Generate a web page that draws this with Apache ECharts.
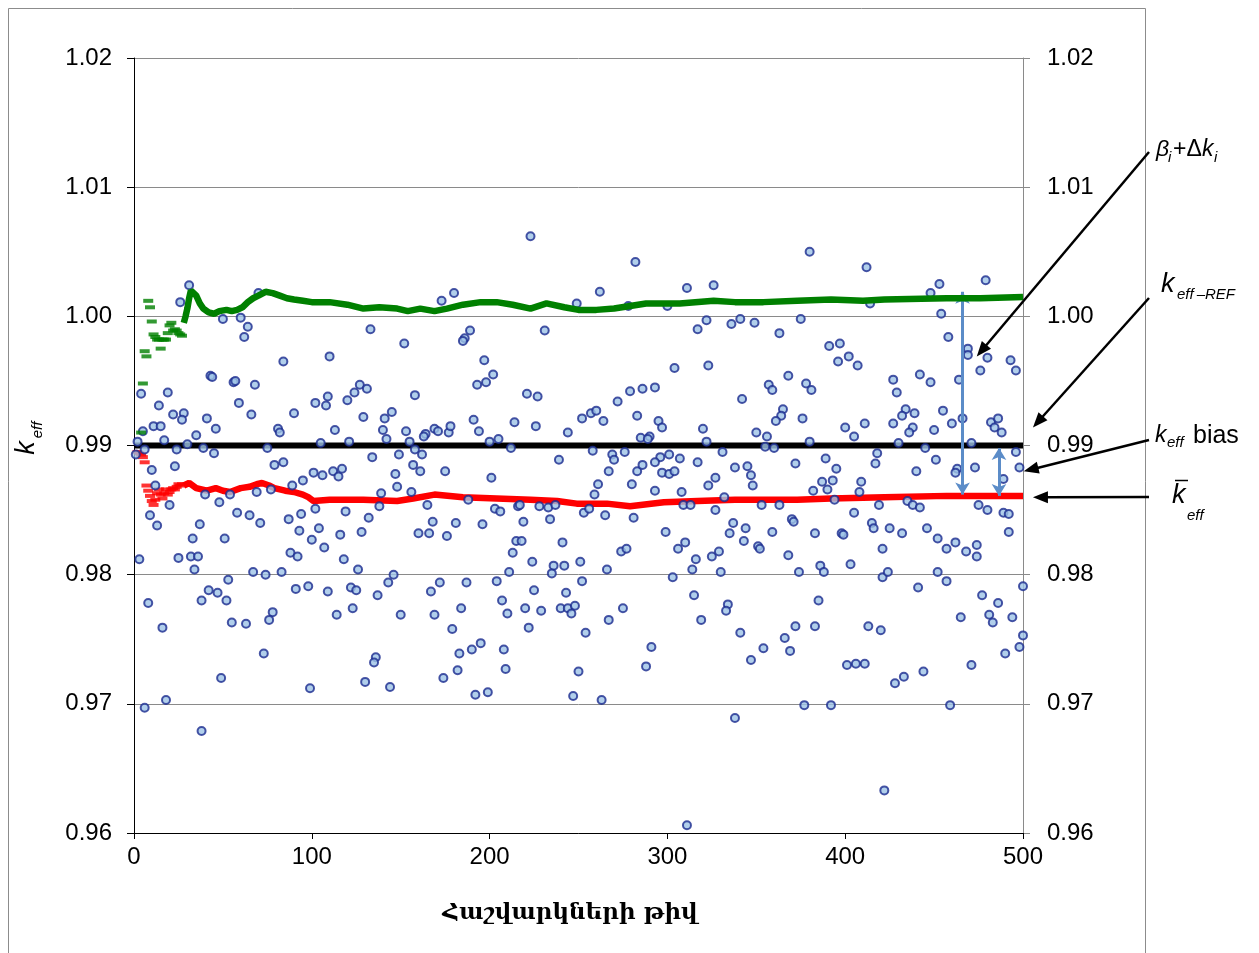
<!DOCTYPE html>
<html>
<head>
<meta charset="utf-8">
<script src="https://cdn.jsdelivr.net/npm/echarts@6/dist/echarts.min.js"></script>
<style>
html,body{margin:0;padding:0;background:#fff;}
#chart{width:1259px;height:953px;}
</style>
</head>
<body>
<div id="chart"></div>
<script>
// Individual k_eff results, [calculation number, k_eff]
const kEffPoints = [
[31,1.0024],[26,1.0011],[50,0.9998],[60,0.9999],[64,0.9992],[62,0.9984],[70,1.0018],[84,0.9965],[43,0.9954],[44,0.9953],
[56,0.9949],[57,0.9950],[68,0.9947],[4,0.9940],[19,0.9941],[14,0.9931],[59,0.9933],[22,0.9924],[28,0.9925],[27,0.9920],
[41,0.9921],[66,0.9924],[11,0.9915],[15,0.9915],[5,0.9911],[46,0.9913],[81,0.9913],[82,0.9910],[35,0.9908],[17,0.9904],
[2,0.9903],[1,0.9893],[6,0.9897],[24,0.9897],[30,0.9901],[39,0.9898],[45,0.9894],[75,0.9898],[79,0.9885],[84,0.9887],
[10,0.9881],[23,0.9884],[12,0.9869],[20,0.9854],[40,0.9862],[48,0.9856],[54,0.9862],[69,0.9864],[77,0.9866],[9,0.9846],
[13,0.9838],[37,0.9839],[58,0.9848],[65,0.9846],[71,0.9840],[33,0.9828],[51,0.9828],[3,0.9812],[25,0.9813],[32,0.9814],
[36,0.9814],[34,0.9804],[67,0.9802],[74,0.9800],[83,0.9802],[53,0.9796],[42,0.9788],[47,0.9786],[38,0.9780],[52,0.9780],
[8,0.9778],[78,0.9771],[76,0.9765],[55,0.9763],[63,0.9762],[16,0.9759],[73,0.9739],[49,0.9720],[18,0.9703],[6,0.9697],
[38,0.9679],
[133,0.9990],[152,0.9979],[110,0.9969],[127,0.9947],[131,0.9944],[124,0.9941],[120,0.9935],[109,0.9938],[102,0.9933],[108,0.9931],
[158,0.9939],[90,0.9925],[129,0.9922],[145,0.9926],[141,0.9921],[113,0.9912],[140,0.9912],[153,0.9911],[164,0.9909],[163,0.9907],
[169,0.9913],[105,0.9902],[121,0.9903],[142,0.9905],[155,0.9903],[134,0.9891],[149,0.9893],[158,0.9897],[162,0.9893],[157,0.9885],
[161,0.9880],[95,0.9873],[101,0.9879],[106,0.9877],[112,0.9880],[115,0.9876],[117,0.9882],[147,0.9878],[89,0.9869],[148,0.9868],
[139,0.9863],[138,0.9853],[156,0.9864],[165,0.9854],[102,0.9851],[119,0.9849],[94,0.9847],[87,0.9843],[132,0.9844],[168,0.9841],
[93,0.9834],[104,0.9836],[128,0.9833],[116,0.9831],[160,0.9832],[166,0.9832],[100,0.9827],[88,0.9817],[92,0.9814],[107,0.9821],
[118,0.9812],[126,0.9804],[146,0.9800],[143,0.9794],[91,0.9789],[98,0.9791],[109,0.9787],[122,0.9790],[125,0.9788],[137,0.9784],
[167,0.9787],[114,0.9769],[123,0.9774],[150,0.9769],[169,0.9769],[136,0.9736],[135,0.9732],[130,0.9717],[144,0.9713],[99,0.9712],
[223,1.0062],[180,1.0018],[173,1.0012],[249,1.0010],[189,0.9989],[186,0.9983],[185,0.9981],[231,0.9989],[197,0.9966],[202,0.9955],
[198,0.9949],[193,0.9947],[221,0.9940],[227,0.9938],[191,0.9920],[171,0.9911],[177,0.9910],[178,0.9915],[194,0.9911],[214,0.9918],
[226,0.9915],[244,0.9910],[252,0.9921],[200,0.9903],[205,0.9905],[212,0.9898],[239,0.9889],[175,0.9880],[201,0.9875],[188,0.9858],
[203,0.9851],[206,0.9849],[216,0.9853],[217,0.9854],[228,0.9853],[233,0.9852],[237,0.9854],[253,0.9848],[181,0.9840],[196,0.9839],
[219,0.9841],[234,0.9843],[176,0.9830],[215,0.9826],[218,0.9826],[213,0.9817],[241,0.9825],[224,0.9810],[236,0.9807],[235,0.9801],
[242,0.9807],[251,0.9810],[211,0.9802],[172,0.9794],[187,0.9794],[204,0.9795],[252,0.9795],[225,0.9788],[243,0.9786],[207,0.9780],
[210,0.9770],[184,0.9774],[220,0.9774],[229,0.9772],[240,0.9774],[244,0.9774],[248,0.9776],[246,0.9770],[179,0.9758],[222,0.9759],
[254,0.9755],[195,0.9747],[190,0.9742],[183,0.9739],[208,0.9742],[174,0.9720],[182,0.9726],[209,0.9727],[250,0.9725],[192,0.9707],
[199,0.9709],[247,0.9706],
[282,1.0042],[262,1.0019],[311,1.0022],[326,1.0024],[278,1.0008],[300,1.0008],[322,0.9997],[317,0.9990],[336,0.9994],[304,0.9960],
[323,0.9962],[279,0.9942],[286,0.9944],[293,0.9945],[272,0.9934],[257,0.9925],[260,0.9927],[264,0.9919],[283,0.9923],[295,0.9919],
[297,0.9914],[320,0.9913],[285,0.9906],[290,0.9907],[289,0.9905],[322,0.9903],[258,0.9896],[269,0.9893],[270,0.9889],[276,0.9895],
[296,0.9891],[301,0.9893],[307,0.9890],[331,0.9895],[267,0.9880],[283,0.9880],[286,0.9885],[293,0.9887],[297,0.9879],[301,0.9878],
[304,0.9880],[317,0.9887],[327,0.9875],[323,0.9869],[338,0.9883],[261,0.9870],[259,0.9862],[280,0.9870],[293,0.9865],[308,0.9864],
[256,0.9851],[265,0.9846],[281,0.9844],[309,0.9854],[313,0.9854],[332,0.9860],[327,0.9850],[337,0.9840],[335,0.9832],[299,0.9833],
[274,0.9818],[277,0.9820],[306,0.9820],[310,0.9825],[316,0.9812],[314,0.9804],[325,0.9814],[329,0.9818],[330,0.9802],[266,0.9804],
[303,0.9798],[315,0.9784],[334,0.9777],[333,0.9772],[275,0.9774],[267,0.9765],[319,0.9765],[291,0.9744],[288,0.9729],[263,0.9703],
[338,0.9689],[311,0.9606],
[380,1.0050],[412,1.0038],[414,1.0010],[341,0.9998],[349,0.9995],[375,0.9998],[363,0.9987],[391,0.9977],[397,0.9979],[396,0.9965],
[402,0.9969],[407,0.9962],[368,0.9954],[357,0.9947],[359,0.9943],[378,0.9948],[381,0.9943],[342,0.9936],[365,0.9928],[364,0.9923],
[361,0.9919],[376,0.9921],[400,0.9914],[405,0.9907],[411,0.9917],[350,0.9910],[356,0.9907],[380,0.9903],[355,0.9899],[360,0.9898],
[345,0.9884],[347,0.9877],[348,0.9869],[372,0.9886],[389,0.9890],[395,0.9882],[387,0.9872],[390,0.9866],[393,0.9873],[382,0.9865],
[409,0.9872],[408,0.9864],[418,0.9894],[417,0.9886],[394,0.9858],[363,0.9854],[419,0.9854],[353,0.9854],[344,0.9836],[343,0.9826],
[359,0.9833],[370,0.9843],[371,0.9841],[383,0.9832],[398,0.9832],[399,0.9831],[405,0.9848],[415,0.9840],[416,0.9836],[421,0.9820],
[351,0.9822],[352,0.9820],[368,0.9815],[386,0.9807],[388,0.9802],[403,0.9808],[374,0.9802],[421,0.9798],[385,0.9780],[341,0.9755],
[354,0.9743],[347,0.9734],[366,0.9751],[369,0.9741],[372,0.9760],[383,0.9760],[413,0.9760],[420,0.9757],[401,0.9730],[406,0.9731],
[411,0.9731],[377,0.9699],[392,0.9699],[422,0.9633],
[453,1.0025],[448,1.0018],[479,1.0028],[454,1.0002],[458,0.9984],[469,0.9975],[469,0.9970],[480,0.9968],[476,0.9958],[493,0.9966],
[496,0.9958],[442,0.9955],[427,0.9951],[429,0.9941],[448,0.9949],[464,0.9951],[434,0.9928],[432,0.9923],[439,0.9925],[455,0.9927],
[466,0.9921],[427,0.9917],[438,0.9914],[436,0.9910],[450,0.9912],[460,0.9917],[482,0.9918],[486,0.9921],[484,0.9914],[488,0.9910],
[430,0.9902],[445,0.9898],[471,0.9902],[451,0.9889],[496,0.9895],[440,0.9880],[463,0.9882],[462,0.9879],[473,0.9883],[489,0.9874],
[498,0.9883],[435,0.9857],[438,0.9854],[442,0.9852],[475,0.9854],[480,0.9850],[489,0.9848],[492,0.9847],[492,0.9833],[425,0.9836],
[432,0.9832],[446,0.9836],[452,0.9828],[457,0.9820],[462,0.9825],[468,0.9818],[474,0.9814],[474,0.9823],[424,0.9802],[452,0.9802],
[457,0.9795],[441,0.9790],[477,0.9784],[486,0.9778],[500,0.9791],[481,0.9769],[483,0.9763],[494,0.9767],[465,0.9767],[500,0.9753],
[498,0.9744],[490,0.9739],[471,0.9730],[428,0.9716],[433,0.9721],[444,0.9725],[459,0.9699]
];

// Running upper bound beta_i + delta k_i: first calculations as separate marks, then the settled curve
const upperDashes = [
[4,0.9910],[5,0.9948],[6,0.9973],[7,0.9969],[8,1.0012],[9,1.0007],[10,0.9996],[11,0.9986],[12,0.9984],[13,0.9982],
[14,0.9982],[15,0.9975],[16,0.9982],[17,0.9982],[18,0.9982],[19,0.9987],[20,0.9993],[21,0.9995],[22,0.9989],[23,0.9990],
[24,0.9989],[25,0.9987],[26,0.9986],[27,0.9985]
];
const upperLine = [
[28,0.9995],[29,1.0000],[30,1.0006],[31,1.0014],[32,1.0020],[33,1.0021],[35,1.0016],[37,1.0010],[39,1.0006],[42,1.0003],
[45,1.0002],[48,1.0004],[52,1.0005],[55,1.0004],[58,1.0005],[61,1.0007],[64,1.0011],[67,1.0014],[70,1.0016],[74,1.0019],
[78,1.0018],[82,1.0016],[86,1.0014],[90,1.0013],[95,1.0012],[100,1.0011],[110,1.0011],[120,1.0009],[129,1.0006],[138,1.0007],
[148,1.0006],[154,1.0004],[161,1.0006],[169,1.0004],[176,1.0006],[185,1.0009],[195,1.0011],[204,1.0011],[213,1.0009],[223,1.0006],
[232,1.0010],[242,1.0007],[250,1.0005],[260,1.0005],[270,1.0006],[279,1.0008],[288,1.0010],[307,1.0010],[326,1.0012],[338,1.0011],
[354,1.0011],[373,1.0012],[392,1.0013],[410,1.0012],[422,1.0013],[457,1.0014],[476,1.0014],[500,1.0015]
];

// Running mean k_eff
const meanDashes = [
[2,0.9895],[3,0.9894],[4,0.9893],[5,0.9891],[6,0.9887],[7,0.9869],[8,0.9865],[9,0.9861],[10,0.9857],[11,0.9854],
[12,0.9858],[13,0.9863],[14,0.9866],[15,0.9862],[16,0.9859],[17,0.9863],[18,0.9866],[19,0.9862],[20,0.9864],[21,0.9866],
[22,0.9867],[23,0.9866],[24,0.9868],[25,0.9870],[26,0.9869],[27,0.9870]
];
const meanLine = [
[28,0.9869],[31,0.9871],[35,0.9867],[41,0.9865],[46,0.9867],[50,0.9865],[54,0.9864],[60,0.9867],[65,0.9868],[69,0.9870],
[72,0.9871],[76,0.9869],[79,0.9867],[85,0.9865],[90,0.9864],[95,0.9862],[98,0.9860],[101,0.9857],[110,0.9858],[129,0.9858],
[148,0.9857],[157,0.9859],[169,0.9862],[185,0.9860],[204,0.9859],[223,0.9858],[238,0.9857],[249,0.9855],[266,0.9855],[279,0.9853],
[298,0.9856],[317,0.9857],[338,0.9858],[373,0.9858],[392,0.9859],[422,0.9860],[457,0.9861],[500,0.9861]
];

// Reference k_eff and axis extents
const kEffRef = 0.99;
const xTicks = [0, 100, 200, 300, 400, 500];
const yTicks = [0.96, 0.97, 0.98, 0.99, 1.00, 1.01, 1.02];

// Double-headed gap arrows: [calculation number, top, bottom]
const gapArrows = [[466, 1.0019, 0.9862], [486.5, 0.9898, 0.9861]];

// Callout arrow tips in data units
const calloutTips = [[474, 0.9969], [505.6, 0.9914], [500.4, 0.9880], [505.6, 0.9860]];

const FONT = '"Liberation Sans", Arial, sans-serif';
const GREEN = '#008000';
const RED = '#ff0000';

const chart = echarts.init(document.getElementById('chart'), null, {renderer: 'canvas'});

const yAxisBase = {
  type: 'value',
  min: yTicks[0],
  max: yTicks[yTicks.length - 1],
  interval: 0.01,
  axisLabel: {
    fontFamily: FONT, fontSize: 24, color: '#000',
    formatter: v => v.toFixed(2)
  }
};

const option = {
  animation: false,
  backgroundColor: '#fff',
  grid: {left: 134, right: 236, top: 58, bottom: 120, containLabel: false},
  xAxis: {
    type: 'value',
    min: xTicks[0], max: xTicks[xTicks.length - 1], interval: 100,
    axisLine: {show: true, onZero: false, lineStyle: {color: '#000', width: 1}},
    axisTick: {show: true, inside: false, length: 6, lineStyle: {color: '#000'}},
    splitLine: {show: false},
    axisLabel: {fontFamily: FONT, fontSize: 24, color: '#000', margin: 12}
  },
  yAxis: [
    Object.assign({}, yAxisBase, {
      position: 'left',
      axisLine: {show: true, onZero: false, lineStyle: {color: '#000', width: 1}},
      axisTick: {show: true, inside: false, length: 7, lineStyle: {color: '#000'}},
      splitLine: {show: true, lineStyle: {color: '#8a8a8a', width: 1}},
      axisLabel: Object.assign({}, yAxisBase.axisLabel, {margin: 22})
    }),
    Object.assign({}, yAxisBase, {
      position: 'right',
      axisLine: {show: true, onZero: false, lineStyle: {color: '#8a8a8a', width: 1}},
      axisTick: {show: true, inside: false, length: 7, lineStyle: {color: '#8a8a8a'}},
      splitLine: {show: false},
      axisLabel: Object.assign({}, yAxisBase.axisLabel, {margin: 24})
    })
  ],
  series: [
    {
      name: 'keff-ref', type: 'line', z: 2,
      data: [[xTicks[0], kEffRef], [xTicks[xTicks.length - 1], kEffRef]],
      showSymbol: false, symbol: 'none',
      lineStyle: {color: '#000', width: 6}
    },
    {
      name: 'mean-line', type: 'line', z: 3,
      data: meanLine, showSymbol: false, symbol: 'none',
      lineStyle: {color: RED, width: 6.5}
    },
    {
      name: 'mean-dash', type: 'scatter', z: 3,
      data: meanDashes, symbol: 'rect', symbolSize: [10, 4],
      itemStyle: {color: RED}
    },
    {
      name: 'keff', type: 'scatter', z: 4,
      data: kEffPoints, symbol: 'circle', symbolSize: 8,
      itemStyle: {color: '#9dc3e6', borderColor: '#1a2a8e', borderWidth: 2}
    },
    {
      name: 'upper-line', type: 'line', z: 5,
      data: upperLine, showSymbol: false, symbol: 'none',
      lineStyle: {color: GREEN, width: 6.5}
    },
    {
      name: 'upper-dash', type: 'scatter', z: 5,
      data: upperDashes, symbol: 'rect', symbolSize: [10, 4],
      itemStyle: {color: GREEN}
    },
    {
      name: 'gaps', type: 'line', z: 6, data: [],
      markLine: {
        silent: true,
        animation: false,
        symbol: ['arrow', 'arrow'],
        symbolSize: [11, 12],
        label: {show: false},
        emphasis: {disabled: true},
        lineStyle: {color: '#5b8cc8', width: 3, type: 'solid'},
        data: gapArrows.map(a => [{coord: [a[0], a[1]]}, {coord: [a[0], a[2]]}])
      }
    }
  ]
};

chart.setOption(option);

// Callouts, labels and frame
function arrowElements(tail, tip) {
  const dx = tip[0] - tail[0], dy = tip[1] - tail[1];
  const len = Math.hypot(dx, dy);
  const ux = dx / len, uy = dy / len;
  const hl = 15, hw = 6;
  const bx = tip[0] - ux * hl, by = tip[1] - uy * hl;
  return [
    {type: 'line', z: 100, shape: {x1: tail[0], y1: tail[1], x2: bx + ux * 2, y2: by + uy * 2},
     style: {stroke: '#000', lineWidth: 2.5}},
    {type: 'polygon', z: 100, shape: {points: [
      [tip[0], tip[1]],
      [bx - uy * hw, by + ux * hw],
      [bx + uy * hw, by - ux * hw]
    ]}, style: {fill: '#000'}}
  ];
}

function txt(x, y, text, font, extra) {
  return Object.assign({
    type: 'text', x: x, y: y, z: 100,
    style: {text: text, font: font, fill: '#000',
            align: 'left', textAlign: 'left', verticalAlign: 'middle', textVerticalAlign: 'middle'}
  }, extra || {});
}

const calloutTails = [[1149, 152], [1149, 298], [1149, 440], [1149, 497]];
const elements = [];

elements.push({type: 'rect', z: 0, shape: {x: 8.5, y: 8.5, width: 1137, height: 1000},
  style: {fill: 'none', stroke: '#8c8c8c', lineWidth: 1}});

calloutTips.forEach((tipData, i) => {
  const tip = chart.convertToPixel({xAxisIndex: 0, yAxisIndex: 0}, tipData);
  arrowElements(calloutTails[i], tip).forEach(e => elements.push(e));
});

const IT = 'italic 23px ' + FONT;
const IT_BIG = 'italic 27px ' + FONT;
const SUB = 'italic 15px ' + FONT;
const NORM = '23px ' + FONT;

// beta_i + delta k_i
elements.push(txt(1156, 150, 'β', IT));
elements.push(txt(1168, 158, 'i', SUB));
elements.push(txt(1173, 150, '+Δ', NORM));
elements.push(txt(1202, 150, 'k', IT));
elements.push(txt(1214, 158, 'i', SUB));

// k_eff-REF
elements.push(txt(1161, 284, 'k', IT_BIG));
elements.push(txt(1177, 295, 'eff\u2009\u2013REF', SUB));

// k_eff bias
elements.push(txt(1155, 436, 'k', IT));
elements.push(txt(1167, 443, 'eff', SUB));
elements.push(txt(1193, 436, 'bias', '25px ' + FONT));

// mean k_eff
elements.push(txt(1172, 495, 'k', IT_BIG));
elements.push({type: 'line', z: 100, shape: {x1: 1175, y1: 480.5, x2: 1188, y2: 480.5},
  style: {stroke: '#000', lineWidth: 1.5}});
elements.push(txt(1187, 516, 'eff', SUB));

// y axis title k_eff (rotated)
elements.push(txt(26, 448, 'k', IT_BIG, {rotation: Math.PI / 2,
  style: {text: 'k', font: IT_BIG, fill: '#000', align: 'center', textAlign: 'center',
          verticalAlign: 'middle', textVerticalAlign: 'middle'}}));
elements.push(txt(38, 430, 'eff', SUB, {rotation: Math.PI / 2,
  style: {text: 'eff', font: SUB, fill: '#000', align: 'center', textAlign: 'center',
          verticalAlign: 'middle', textVerticalAlign: 'middle'}}));

// x axis title
elements.push({type: 'text', x: 570, y: 913, z: 100,
  style: {text: 'Հաշվարկների թիվ', font: 'bold 23px "DejaVu Serif", "DejaVu Sans", serif', fill: '#000',
          align: 'center', textAlign: 'center', verticalAlign: 'middle', textVerticalAlign: 'middle'}});

chart.setOption({graphic: {elements: elements}});
</script>
</body>
</html>
